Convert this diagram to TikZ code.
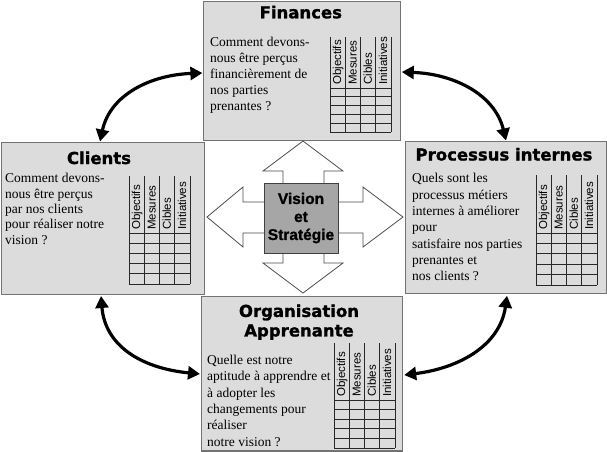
\documentclass[tikz,border=0pt]{standalone}
\usepackage{fontspec}
\setmainfont{Liberation Serif}
\newfontfamily\titlefont{DejaVu Sans}[BoldFeatures={FakeBold=1.3}]
\newfontfamily\arialfont{Liberation Sans}
\newfontfamily\visfont{Liberation Sans}[BoldFeatures={FakeBold=1.2}]
\usetikzlibrary{arrows.meta,calc}
\definecolor{boxfill}{RGB}{220,220,220}
\definecolor{boxline}{RGB}{115,115,115}
\definecolor{visfill}{RGB}{166,166,166}
\definecolor{gridcol}{RGB}{40,40,40}
\newcommand\bscgrid[4]{%
  \foreach \i in {0,1,2,3,4}{\draw[gridline] ({#1+15.3*\i},#2) -- ({#1+15.3*\i},#4);}
  \foreach \j in {0,1,2,3,4,5}{\draw[gridline] (#1,{#3+(#4-#3)*\j/5}) -- ({#1+61.2},{#3+(#4-#3)*\j/5});}
  \foreach \lbl [count=\k from 0] in {Objectifs,Mesures,Cibles,Initiatives}{\node[colhead] at ({#1+15.3*\k+8.2},{#3-3}) {\lbl};}
}
\begin{document}
\begin{tikzpicture}[x=1pt,y=-1pt,
  box/.style={rectangle, draw=boxline, line width=1.2pt, fill=boxfill, anchor=north west, inner sep=0pt},
  vis/.style={rectangle, draw=black!75, line width=0.9pt, fill=visfill, minimum width=74pt, minimum height=70pt, inner sep=0pt, align=center, font=\visfont\bfseries\fontsize{15.5}{18}\selectfont},
  ttl/.style={inner sep=0pt, font=\titlefont\bfseries\fontsize{16.5}{19.5}\selectfont},
  qtxt/.style={inner sep=0pt, anchor=north west, align=left},
  gridline/.style={draw=gridcol, line width=0.85pt},
  colhead/.style={rotate=90, anchor=west, inner sep=0pt, font=\arialfont\fontsize{11.5}{11.5}\selectfont, text height=8pt, text depth=2pt},
  bigarrow/.style={draw=black!70, line width=0.8pt, fill=white, line join=miter},
  curve/.style={line width=3.2pt, black, {Triangle[length=12pt,width=13pt]}-{Triangle[length=12pt,width=13pt]}}
]
\useasboundingbox (0,0) rectangle (607,451);
\fill[white] (0,0) rectangle (607,451);

% boxes
\node[box, minimum width=197pt, minimum height=139.5pt] (fin) at (203,0.6) {};
\node[box, minimum width=203.5pt, minimum height=152pt] (cli) at (0.6,142) {};
\node[box, minimum width=201.4pt, minimum height=152pt] (pro) at (405,141) {};
\node[box, minimum width=201pt, minimum height=154.4pt] (org) at (201,296) {};

% four-way arrow and centre
\draw[bigarrow] (303,141) -- (343,171) -- (324,171) -- (324,202) -- (363,202) -- (363,187)
  -- (403,217) -- (363,247) -- (363,233) -- (324,233) -- (324,263) -- (343,263)
  -- (303,293) -- (263,263) -- (283,263) -- (283,233) -- (243,233) -- (243,247)
  -- (207,217) -- (243,187) -- (243,202) -- (283,202) -- (283,171) -- (263,171) -- cycle;
\node[vis] (vis) at (301,218) {Vision\\et\\Stratégie};

% titles
\node[ttl, anchor=base] (finT) at (300.8,18.3) {Finances};
\node[ttl, anchor=base] (cliT) at (99,164) {Clients};
\node[ttl, anchor=base] (proT) at (504,160.5) {Processus internes};
\node[ttl, anchor=north, align=center] (orgT) at (299,304.2) {Organisation\\Apprenante};

% questions
\node[qtxt, font=\fontsize{13.5}{15.8}\selectfont] (finQ) at (210,37.3)
  {Comment devons-\\nous être perçus\\financièrement de\\nos parties\\prenantes ?};
\node[qtxt, font=\fontsize{13.5}{15.3}\selectfont] (cliQ) at (5,173.3)
  {Comment devons-\\nous être perçus\\par nos clients\\pour réaliser notre\\vision ?};
\node[qtxt, font=\fontsize{13.5}{16.3}\selectfont] (proQ) at (412,173.3)
  {Quels sont les\\processus métiers\\internes à améliorer\\pour\\satisfaire nos parties\\prenantes et\\nos clients ?};
\node[qtxt, font=\fontsize{13.5}{16.3}\selectfont] (orgQ) at (207,355)
  {Quelle est notre\\aptitude à apprendre et\\à adopter les\\changements pour\\réaliser\\notre vision ?};

% tables
\bscgrid{330}{37}{88}{132}
\bscgrid{129}{176}{233}{284}
\bscgrid{536}{175}{233}{285}
\bscgrid{334}{343}{400}{448}

% curved connectors
\coordinate (c1) at ($(cli.north west)+(99.4,-0.5)$);
\coordinate (c2) at ($(fin.north west)+(-0.6,72.4)$);
\coordinate (c3) at ($(fin.north east)+(0.6,71.4)$);
\coordinate (c4) at ($(pro.north west)+(101,-0.5)$);
\coordinate (c5) at ($(cli.south west)+(100.4,0.8)$);
\coordinate (c6) at ($(org.north west)+(-1,78)$);
\coordinate (c7) at ($(org.north east)+(1,79)$);
\coordinate (c8) at ($(pro.south west)+(102,1.5)$);
\draw[curve] (c1) .. controls (110,95) and (150,75) .. (c2);
\draw[curve] (c3) .. controls (455,74) and (495,95) .. (c4);
\draw[curve] (c5) .. controls (105,345) and (140,368) .. (c6);
\draw[curve] (c7) .. controls (460,368) and (500,345) .. (c8);
\end{tikzpicture}
\end{document}
